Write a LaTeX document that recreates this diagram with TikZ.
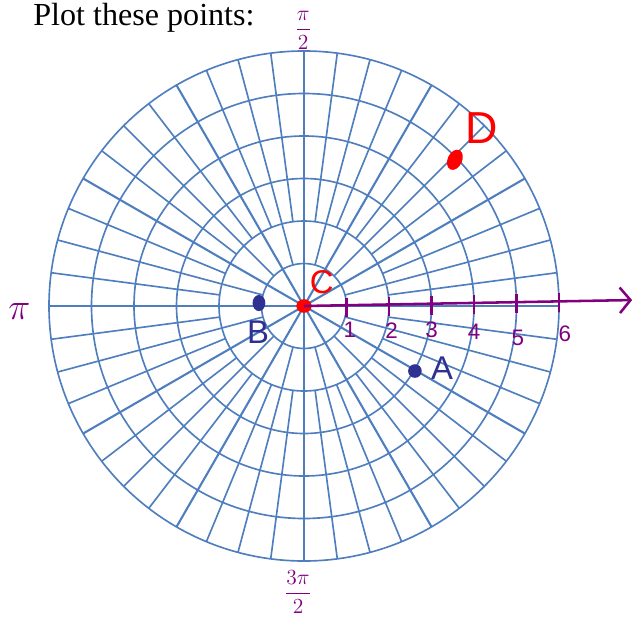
\documentclass[tikz,border=0pt]{standalone}
\usepackage{fontspec}
\setmainfont{Liberation Serif}
\setsansfont{Liberation Sans}
\usepackage{tikz}
\usetikzlibrary{shapes.geometric,arrows.meta,calc}
\definecolor{GridLine}{RGB}{78,126,190}
\definecolor{PenPurple}{RGB}{128,0,128}
\definecolor{PenBlue}{RGB}{46,49,146}
\definecolor{PenRed}{RGB}{255,0,0}
\tikzset{
  grid_min/.style={draw=GridLine, line width=1.1pt},
  grid_maj/.style={draw=GridLine, line width=1.4pt},
  axis_arr/.style={draw=PenPurple, line width=1.7pt,
    -{Straight Barb[length=0.25cm,width=0.6cm,line width=1.7pt]}},
  tick_mk/.style={draw=PenPurple, line width=1.6pt},
  lbl_num/.style={text=PenPurple, font=\sffamily\fontsize{15}{17}\selectfont, inner sep=0pt},
  lbl_ang/.style={text=PenPurple, font=\fontsize{13.5}{15}\selectfont, inner sep=0pt},
  nd_dot/.style={ellipse, inner sep=0pt},
  lbl_pt/.style={font=\sffamily\fontsize{22}{24}\selectfont, inner sep=0pt},
}

\begin{document}
\begin{tikzpicture}[x=1cm,y=1cm]
\useasboundingbox (-7.153,-7.694) rectangle (7.788,7.2);

% polar grid
\foreach \r in {1,...,6}
  \draw[grid_min] (0,0) circle (\r);
\foreach \a in {0,30,...,330}
  \draw[grid_maj] (0,0) -- (\a:6);
\foreach \a in {15,45,...,345}
  \draw[grid_min] (\a:1) -- (\a:6);
\foreach \a in {7.5,22.5,...,352.5}
  \draw[grid_min] (\a:2) -- (\a:6);

\node[anchor=base west, font=\fontsize{21.5}{24}\selectfont, inner sep=0pt] (title) at (-6.376,6.61) {Plot these points:};

% angle labels
\node[lbl_ang] (ang_half) at (-0.02,6.49) {$\displaystyle\frac{\pi}{2}$};
\node[lbl_ang, font=\fontsize{24}{26}\selectfont] (ang_pi) at (-6.7,-0.14) {$\pi$};
\node[lbl_ang] (ang_three) at (-0.14,-6.73) {$\displaystyle\frac{3\pi}{2}$};

% points
\node[nd_dot, fill=PenRed, minimum width=0.36cm, minimum height=0.32cm] (ptC) at (0,0) {};
\node[nd_dot, fill=PenBlue, minimum width=0.30cm, minimum height=0.38cm] (ptB) at (-1.06,0.07) {};
\node[nd_dot, fill=PenBlue, minimum width=0.32cm, minimum height=0.32cm] (ptA) at (2.61,-1.53) {};
\node[nd_dot, fill=PenRed, minimum width=0.34cm, minimum height=0.50cm, rotate=-25] (ptD) at (3.55,3.44) {};

% radial axis
\coordinate (ax_end) at (7.72,0.14);
\draw[axis_arr] (ptC.center) -- (ax_end);
\foreach \i/\y in {1/0.0, 2/0.02, 3/0.04, 4/0.06, 5/0.08, 6/0.10}
  \draw[tick_mk] (\i,\y+0.2) -- (\i,\y-0.25);
\node[lbl_num] (num1) at (1.08,-0.55) {1};
\node[lbl_num] (num2) at (2.06,-0.57) {2};
\node[lbl_num] (num3) at (3.0,-0.57) {3};
\node[lbl_num] (num4) at (4.0,-0.6) {4};
\node[lbl_num] (num5) at (5.03,-0.76) {5};
\node[lbl_num] (num6) at (6.14,-0.66) {6};

% point labels
\node[lbl_pt, text=PenBlue] (lblA) at (3.25,-1.46) {A};
\node[lbl_pt, text=PenBlue] (lblB) at (-1.08,-0.62) {B};
\node[lbl_pt, text=PenRed] (lblC) at (0.42,0.56) {C};
\node[lbl_pt, text=PenRed, font=\sffamily\fontsize{30}{32}\selectfont] (lblD) at (4.19,4.19) {D};
\end{tikzpicture}
\end{document}
